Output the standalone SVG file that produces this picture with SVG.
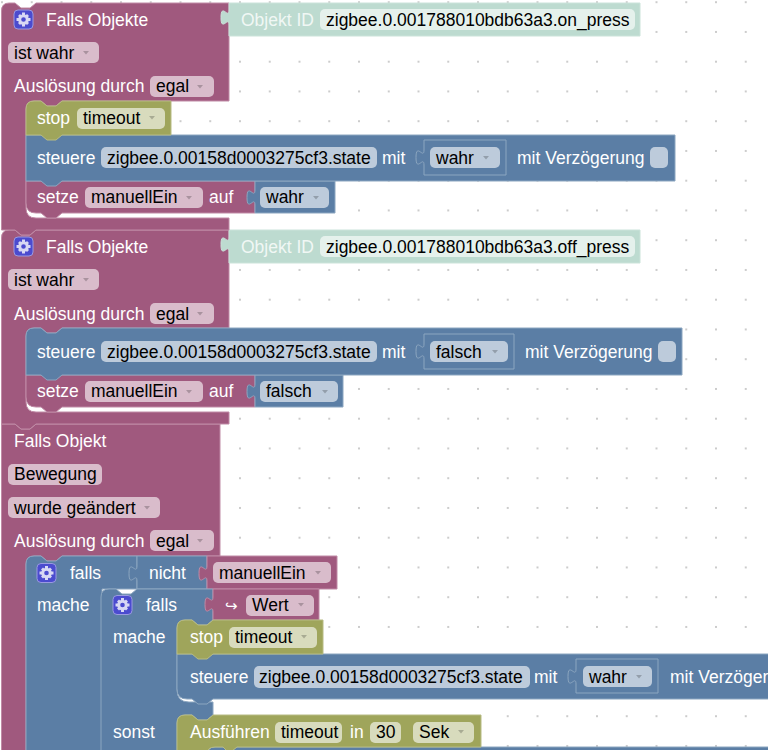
<svg xmlns="http://www.w3.org/2000/svg" width="768" height="750" viewBox="0 0 768 750">
<style>
text{font-family:"Liberation Sans",Arial,sans-serif;font-size:17.5px}
.l{fill:#fff}
.t{fill:#000}
.p{fill:#a0597e;stroke:#c08ba6;stroke-width:1}
.b{fill:#5b7ea5;stroke:#8ca6c0;stroke-width:1}
.o{fill:#9fa55b;stroke:#b7bb84;stroke-width:1}
.g{fill:#bddbd0;stroke:#cbe3da;stroke-width:1}
.f{fill:#fff;fill-opacity:.6}
.a{fill:#000;fill-opacity:.22}
.s{fill:none;stroke:#8ca6c0;stroke-width:1}
.ic{fill:#4b4bcf;stroke:#9a9ae0;stroke-width:1}
.gear{fill:none;stroke:#d8d8f4;stroke-width:3}
.gt{fill:#d8d8f4}
</style>
<defs>
<pattern id="dots" x="2" y="2.2" width="29.75" height="29.75" patternUnits="userSpaceOnUse">
<rect x="-1" y="-1" width="2" height="2" fill="#ccc"/>
<rect x="28.75" y="-1" width="2" height="2" fill="#ccc"/>
<rect x="-1" y="28.75" width="2" height="2" fill="#ccc"/>
<rect x="28.75" y="28.75" width="2" height="2" fill="#ccc"/>
</pattern>
<g id="gearicon">
<rect class="ic" x="-9.5" y="-9.5" width="19" height="19" rx="4"/>
<circle class="gear" r="3.8"/>
<path class="gt" d="M-1.5-7h3v3h-3zM-1.500 4h3v3h-3zM-7-1.500h3v3h-3zM4-1.500h3v3h-3zM-5.500-3.500l2-2 2 2-2 2zM3.500-5.500l2 2-2 2-2-2zM-5.500 3.500l2 2 2-2-2-2zM3.500 5.500l2-2-2-2-2 2z"/>
</g>
<path id="arr" class="a" d="M0 0h6l-3 3.500z"/>
</defs>
<rect width="768" height="750" fill="#fff"/>
<rect width="768" height="750" fill="url(#dots)"/>

<g id="connectors"></g>

<g id="block3">
<path class="p" d="M1.500 424H15l6 5h9l6-5H220V556H62l-6 5h-9l-6-5H34Q26 556 26 564V760H1.500Z"/>
<text class="l" x="14" y="447">Falls Objekt</text>
<rect class="f" x="8" y="464" width="94" height="21" rx="5"/><text class="t" x="14" y="480">Bewegung</text>
<rect class="f" x="8" y="497" width="152" height="21" rx="5"/><text class="t" x="14" y="514">wurde geändert</text><use href="#arr" x="144" y="506"/>
<text class="l" x="14" y="547">Auslösung durch</text>
<rect class="f" x="150" y="530" width="64" height="21" rx="5"/><text class="t" x="156" y="547">egal</text><use href="#arr" x="197" y="539"/>
</g>
<g id="falls-outer">
<path class="b" d="M26 564Q26 556 34 556H41l6 5h9l6-5H137V589H102V760H26Z"/>
<use href="#gearicon" x="46.500" y="573"/>
<text class="l" x="70" y="579">falls</text>
<text class="l" x="37" y="611">mache</text>
</g>
<g id="not-block">
<path class="b" d="M137 556H207V589H137V581c0-10-8 8-8-7.500s8 2.500 8-7.500Z"/>
<text class="l" x="149" y="579">nicht</text>
</g>
<g id="not-var">
<path class="p" d="M207 556H337V589H207V581c0-10-8 8-8-7.500s8 2.500 8-7.500Z"/>
<rect class="f" x="213" y="562" width="118" height="21" rx="5"/><text class="t" x="219" y="579">manuellEin</text><use href="#arr" x="315" y="571"/>
</g>
<g id="falls-inner">
<path class="b" d="M101 597Q101 589 109 589H116l6 5h9l6-5H213V620H213l-6 5h-9l-6-5H185Q177 620 177 628V690Q177 702 189 702H213V715H213l-6 5h-9l-6-5H185Q177 715 177 723V760H101Z"/>
<use href="#gearicon" x="122.500" y="605"/>
<text class="l" x="146" y="611">falls</text>
<text class="l" x="113" y="643">mache</text>
<text class="l" x="113" y="738">sonst</text>
</g>
<g id="wert-var">
<path class="p" d="M213 589H319V620H213V612c0-10-8 8-8-7.500s8 2.500 8-7.500Z"/>
<text class="l" x="225" y="611" style="font-size:15px">↪</text>
<rect class="f" x="246" y="595" width="68" height="21" rx="5"/><text class="t" x="252" y="611">Wert</text><use href="#arr" x="298" y="603"/>
</g>
<g id="ctl3">
<path class="b" d="M177 654H780V699H213l-6 5h-9l-6-5H187Q177 699 177 689Z"/>
<text class="l" x="190" y="683">steuere</text>
<rect class="f" x="254" y="666" width="276" height="22" rx="5"/><text class="t" x="259" y="683">zigbee.0.00158d0003275cf3.state</text>
<text class="l" x="534" y="683">mit</text>
<path class="s" d="M576 659H658V693H576V684c0-10-8 8-8-7.500s8 2.500 8-7.500Z"/>
<rect class="f" x="583" y="666" width="69" height="21" rx="5"/><text class="t" x="589" y="683">wahr</text><use href="#arr" x="636" y="675"/>
<text class="l" x="670" y="683">mit Verzöger</text>
</g>
<g id="stop3">
<path class="o" d="M177 628Q177 620 185 620H192l6 5h9l6-5H323V654H213l-6 5h-9l-6-5H177Z"/>
<text class="l" x="190" y="643">stop</text>
<rect class="f" x="229" y="627" width="88" height="21" rx="5"/><text class="t" x="235" y="643">timeout</text><use href="#arr" x="301" y="635"/>
</g>
<g id="inner-next">
<path class="b" d="M207 755Q207 747 215 747H780V760H207Z"/>
</g>
<g id="timeout-run">
<path class="o" d="M177 723Q177 715 185 715H192l6 5h9l6-5H481V747H237l-5 4h-5l-4-4H215Q207 747 207 755V760H177Z"/>
<text class="l" x="190" y="738">Ausführen</text>
<rect class="f" x="275" y="722" width="67" height="21" rx="5"/><text class="t" x="281" y="738">timeout</text>
<text class="l" x="350" y="738">in</text>
<rect class="f" x="370" y="722" width="31" height="21" rx="5"/><text class="t" x="376" y="738">30</text>
<rect class="f" x="413" y="722" width="61" height="21" rx="5"/><text class="t" x="419" y="738">Sek</text><use href="#arr" x="458" y="730"/>
</g>

<g id="block2">
<path class="p" d="M1.500 238Q1.500 230 9 230H15l6 5h9l6-5H229V328H62l-6 5h-9l-6-5H34Q26 328 26 336V402Q26 412 36 412H229V424H36l-6 5h-9l-6-5H1.500Z"/>
<use href="#gearicon" x="23.500" y="246.500"/>
<text class="l" x="46" y="253">Falls Objekte</text>
<rect class="f" x="8" y="269" width="91" height="21" rx="5"/><text class="t" x="14" y="286">ist wahr</text><use href="#arr" x="83" y="278"/>
<text class="l" x="14" y="320">Auslösung durch</text>
<rect class="f" x="150" y="303" width="64" height="21" rx="5"/><text class="t" x="156" y="320">egal</text><use href="#arr" x="197" y="312"/>
</g>
<g id="objid2">
<path class="g" d="M229 230H640V263H229V252c0-10-8 8-8-7.500s8 2.500 8-7.500Z"/>
<text x="241" y="253" fill="#fff" fill-opacity=".8">Objekt ID</text>
<rect class="f" x="320" y="236" width="315" height="21" rx="5"/><text class="t" x="326" y="253">zigbee.0.001788010bdb63a3.off_press</text>
</g>
<g id="set2">
<path class="p" d="M26 375H255V407H62l-6 5h-9l-6-5H36Q26 407 26 397Z"/>
<text class="l" x="37" y="397">setze</text>
<rect class="f" x="85" y="381" width="118" height="21" rx="5"/><text class="t" x="91" y="397">manuellEin</text><use href="#arr" x="186" y="390"/>
<text class="l" x="209" y="397">auf</text>
</g>
<g id="false2">
<path class="b" d="M255 375H343V407H255V399c0-10-8 8-8-7.500s8 2.500 8-7.500Z"/>
<rect class="f" x="260" y="381" width="78" height="21" rx="5"/><text class="t" x="266" y="397">falsch</text><use href="#arr" x="322" y="390"/>
</g>
<g id="ctl2">
<path class="b" d="M26 336Q26 328 34 328H41l6 5h9l6-5H682V375H62l-6 5h-9l-6-5H26Z"/>
<text class="l" x="37" y="358">steuere</text>
<rect class="f" x="101" y="341" width="276" height="21" rx="5"/><text class="t" x="107" y="358">zigbee.0.00158d0003275cf3.state</text>
<text class="l" x="382" y="358">mit</text>
<path class="s" d="M424 334H514V369H424V359c0-10-8 8-8-7.500s8 2.500 8-7.500Z"/>
<rect class="f" x="430" y="341" width="78" height="21" rx="5"/><text class="t" x="436" y="358">falsch</text><use href="#arr" x="492" y="350"/>
<text class="l" x="525" y="358">mit Verzögerung</text>
<rect class="f" x="658" y="341" width="18" height="21" rx="5"/>
</g>

<g id="block1">
<path class="p" d="M1.500 11Q1.500 3 9 3H15l6 5h9l6-5H229V101H62l-6 5h-9l-6-5H34Q26 101 26 109V208Q26 218 36 218H229V230H36l-6 5h-9l-6-5H1.500Z"/>
<use href="#gearicon" x="23.500" y="19.500"/>
<text class="l" x="46" y="26">Falls Objekte</text>
<rect class="f" x="8" y="42" width="91" height="21" rx="5"/><text class="t" x="14" y="59">ist wahr</text><use href="#arr" x="83" y="51"/>
<text class="l" x="14" y="92">Auslösung durch</text>
<rect class="f" x="150" y="76" width="64" height="21" rx="5"/><text class="t" x="156" y="92">egal</text><use href="#arr" x="197" y="85"/>
</g>
<g id="objid1">
<path class="g" d="M229 3H640V36H229V25c0-10-8 8-8-7.500s8 2.500 8-7.500Z"/>
<text x="241" y="26" fill="#fff" fill-opacity=".8">Objekt ID</text>
<rect class="f" x="320" y="9" width="315" height="21" rx="5"/><text class="t" x="326" y="26">zigbee.0.001788010bdb63a3.on_press</text>
</g>
<g id="set1">
<path class="p" d="M26 181H255V213H62l-6 5h-9l-6-5H36Q26 213 26 203Z"/>
<text class="l" x="37" y="203">setze</text>
<rect class="f" x="85" y="187" width="118" height="21" rx="5"/><text class="t" x="91" y="203">manuellEin</text><use href="#arr" x="186" y="196"/>
<text class="l" x="209" y="203">auf</text>
</g>
<g id="true1">
<path class="b" d="M255 181H335V213H255V205c0-10-8 8-8-7.500s8 2.500 8-7.500Z"/>
<rect class="f" x="260" y="187" width="69" height="21" rx="5"/><text class="t" x="266" y="203">wahr</text><use href="#arr" x="313" y="196"/>
</g>
<g id="ctl1">
<path class="b" d="M26 135H675V181H62l-6 5h-9l-6-5H26Z"/>
<text class="l" x="37" y="164">steuere</text>
<rect class="f" x="101" y="147" width="276" height="21" rx="5"/><text class="t" x="107" y="164">zigbee.0.00158d0003275cf3.state</text>
<text class="l" x="382" y="164">mit</text>
<path class="s" d="M424 140H506V175H424V165c0-10-8 8-8-7.500s8 2.500 8-7.500Z"/>
<rect class="f" x="430" y="147" width="70" height="21" rx="5"/><text class="t" x="436" y="164">wahr</text><use href="#arr" x="483" y="156"/>
<text class="l" x="517" y="164">mit Verzögerung</text>
<rect class="f" x="650" y="147" width="18" height="21" rx="5"/>
</g>
<g id="stop1">
<path class="o" d="M26 109Q26 101 34 101H41l6 5h9l6-5H171V135H62l-6 5h-9l-6-5H26Z"/>
<text class="l" x="37" y="124">stop</text>
<rect class="f" x="77" y="108" width="88" height="21" rx="5"/><text class="t" x="83" y="124">timeout</text><use href="#arr" x="149" y="116"/>
</g>
</svg>
